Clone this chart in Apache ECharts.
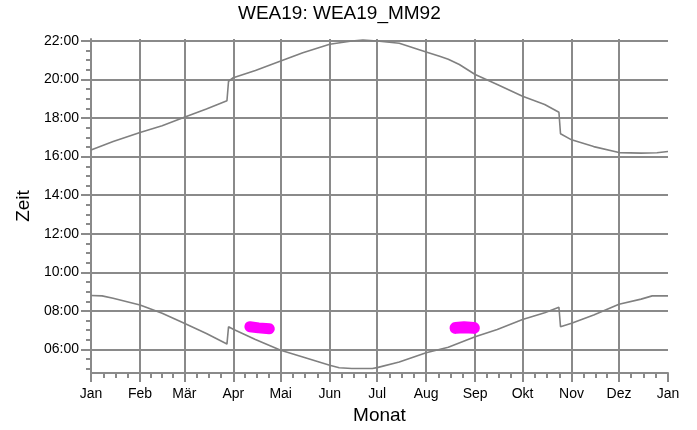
<!DOCTYPE html>
<html>
<head>
<meta charset="utf-8">
<script src="https://cdn.jsdelivr.net/npm/echarts@6/dist/echarts.min.js"></script>
<style>html,body{margin:0;padding:0;background:#fff}#c{width:697px;height:430px}</style>
</head>
<body>
<div id="c"></div>
<script>
// Month tick positions (day of year) and labels
var monthStarts = [0, 31, 59, 90, 120, 151, 181, 212, 243, 273, 304, 334, 365];
var monthNames = ['Jan','Feb','Mär','Apr','Mai','Jun','Jul','Aug','Sep','Okt','Nov','Dez','Jan'];
var minorXTicks = [];
for (var m = 0; m < 12; m++) {
  var a = monthStarts[m], b = monthStarts[m + 1];
  for (var q = 1; q < 4; q++) minorXTicks.push(a + (b - a) * q / 4);
}
// Y ticks (hours)
var hourTicks = [6, 8, 10, 12, 14, 16, 18, 20, 22];
var halfHourTicks = [];
for (var h = 5; h <= 22; h += 0.5) halfHourTicks.push(h);

// Sunset (upper curve): [day of year, hour]
var sunsetDays  = [0, 14, 31, 45, 59, 73, 86, 87, 90, 104, 120, 134, 151, 165, 172, 181, 195, 212, 221, 226, 233, 243, 257, 273, 287, 296, 297, 304, 318, 334, 348, 358, 359, 365];
var sunsetHours = [16.35, 16.78, 17.25, 17.6, 18.04, 18.47, 18.9, 19.91, 20.09, 20.47, 20.96, 21.39, 21.83, 22.0, 22.04, 22.0, 21.88, 21.43, 21.19, 21.05, 20.78, 20.26, 19.74, 19.13, 18.70, 18.30, 17.19, 16.87, 16.52, 16.21, 16.18, 16.2, 16.26, 16.27];
// Sunrise (lower curve)
var sunriseDays  = [0, 7, 14, 31, 45, 59, 73, 86, 87, 90, 104, 120, 134, 151, 157, 165, 178, 181, 195, 212, 226, 243, 257, 273, 287, 296, 297, 304, 318, 334, 348, 355, 365];
var sunriseHours = [8.80, 8.78, 8.66, 8.31, 7.88, 7.36, 6.83, 6.28, 7.18, 7.05, 6.52, 5.96, 5.61, 5.18, 5.05, 5.01, 5.01, 5.06, 5.35, 5.83, 6.12, 6.66, 7.04, 7.56, 7.91, 8.19, 7.18, 7.36, 7.79, 8.35, 8.61, 8.78, 8.78];
// Magenta marks
var mark1Days = [100.5, 106, 112.8];
var mark1Hours = [7.18, 7.12, 7.07];
var mark2Days = [230.6, 236, 242.2];
var mark2Hours = [7.12, 7.15, 7.12];

function zip(xs, ys) { return xs.map(function (x, i) { return [x, ys[i]]; }); }

var GRAY = '#8a8a8a';
var FONT = 'Liberation Sans, Arial, sans-serif';
var Y_MIN = 4.78, Y_MAX = 22.1;

var chart = echarts.init(document.getElementById('c'), null, {renderer: 'canvas'});
chart.setOption({
  animation: false,
  backgroundColor: '#fff',
  title: {
    text: 'WEA19: WEA19_MM92',
    left: 238, top: 4, padding: 0,
    textStyle: {fontFamily: FONT, fontSize: 19, fontWeight: 'normal', color: '#000'}
  },
  grid: {left: 91, right: 29, top: 39, bottom: 57, containLabel: false},
  xAxis: [{
    type: 'value', min: 0, max: 365,
    name: 'Monat', nameLocation: 'middle', nameGap: 33,
    nameTextStyle: {fontFamily: FONT, fontSize: 19, color: '#000'},
    axisLine: {show: true, lineStyle: {color: GRAY, width: 2}},
    axisTick: {show: true, inside: false, length: 9, lineStyle: {color: GRAY, width: 2}, customValues: monthStarts},
    axisLabel: {show: true, margin: 14, fontFamily: FONT, fontSize: 14, color: '#000',
      customValues: monthStarts,
      formatter: function (v) { var i = monthStarts.indexOf(Math.round(v)); return i >= 0 ? monthNames[i] : ''; }},
    splitLine: {show: true, showMinLine: false, showMaxLine: false, lineStyle: {color: GRAY, width: 2}}
  }, {
    type: 'value', min: 0, max: 365, position: 'bottom', gridIndex: 0,
    axisLine: {show: false},
    axisTick: {show: true, inside: false, length: 5, lineStyle: {color: GRAY, width: 2}, customValues: minorXTicks},
    axisLabel: {show: false},
    splitLine: {show: false}
  }],
  yAxis: [{
    type: 'value', min: Y_MIN, max: Y_MAX,
    name: 'Zeit', nameLocation: 'middle', nameGap: 56,
    nameTextStyle: {fontFamily: FONT, fontSize: 19, color: '#000'},
    axisLine: {show: true, lineStyle: {color: GRAY, width: 2}},
    axisTick: {show: true, inside: false, length: 10, lineStyle: {color: GRAY, width: 2}, customValues: hourTicks},
    axisLabel: {show: true, margin: 12, fontFamily: FONT, fontSize: 14, color: '#000',
      customValues: hourTicks,
      formatter: function (v) { var n = Math.round(v); return (n < 10 ? '0' : '') + n + ':00'; }},
    splitLine: {show: true, lineStyle: {color: GRAY, width: 2}}
  }, {
    type: 'value', min: Y_MIN, max: Y_MAX, position: 'left', offset: 0, gridIndex: 0,
    axisLine: {show: false},
    axisTick: {show: true, inside: false, length: 5, lineStyle: {color: GRAY, width: 2}, customValues: halfHourTicks},
    axisLabel: {show: false},
    splitLine: {show: false}
  }],
  series: [{
    type: 'line', data: zip(sunsetDays, sunsetHours), showSymbol: false, symbol: 'none',
    lineStyle: {color: '#808080', width: 1.6}, silent: true
  }, {
    type: 'line', data: zip(sunriseDays, sunriseHours), showSymbol: false, symbol: 'none',
    lineStyle: {color: '#808080', width: 1.6}, silent: true
  }, {
    type: 'line', data: zip(mark1Days, mark1Hours), showSymbol: false, symbol: 'none',
    lineStyle: {color: '#ff00ff', width: 11, cap: 'round', join: 'round'}, silent: true
  }, {
    type: 'line', data: zip(mark2Days, mark2Hours), showSymbol: false, symbol: 'none',
    lineStyle: {color: '#ff00ff', width: 12, cap: 'round', join: 'round'}, silent: true
  }]
});
</script>
</body>
</html>
